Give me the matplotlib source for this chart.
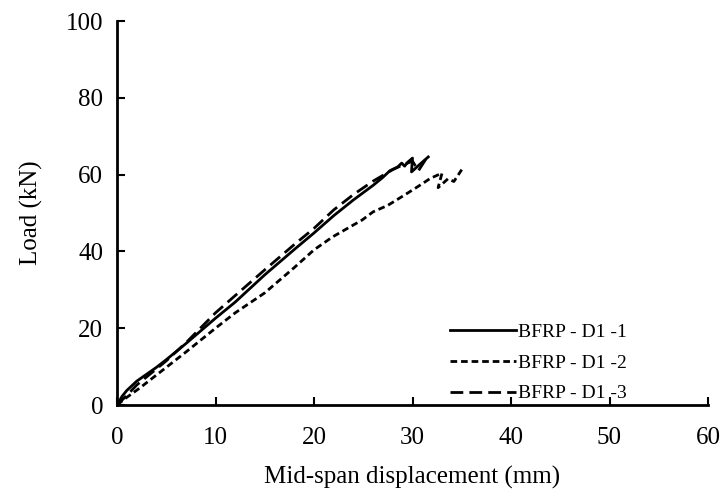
import matplotlib
matplotlib.use("Agg")
import matplotlib.pyplot as plt

plt.rcParams['font.family'] = ['Liberation Serif', 'DejaVu Serif']

# D1-1 (solid)
x1 = [0, 0.5, 1, 2, 3, 4, 5, 7, 10, 12, 15, 18, 20, 22, 24, 25, 26, 27, 27.7, 28.5, 28.9, 29.2, 29.5, 30.0, 29.9, 30.8, 31.6]
y1 = [0, 2.2, 3.8, 6.2, 8.0, 9.8, 11.8, 16.0, 22.6, 26.8, 33.9, 40.5, 44.8, 49.3, 53.4, 55.3, 57.2, 59.3, 61.0, 62.0, 63.0, 62.2, 63.2, 64.3, 60.7, 62.8, 64.6]
# D1-2 (short dashes)
x2 = [0, 1, 2.3, 3, 5, 7, 10, 12, 15, 18, 20, 21.9, 23.4, 24.9, 26, 27.5, 28.7, 29.7, 30.8, 31.8, 33.0, 32.6, 33.6, 34.2, 35.0]
y2 = [0, 2.0, 4.4, 5.8, 9.8, 13.8, 20.0, 24.0, 29.2, 35.8, 40.4, 43.8, 46.0, 48.2, 50.3, 52.0, 53.9, 55.5, 57.3, 59.0, 60.4, 56.6, 58.9, 58.2, 61.3]
# D1-3 (long dashes)
x3 = [0, 1, 2, 3, 5, 7, 10, 12, 15, 18, 20, 22, 24, 26, 27, 28, 29, 30, 30.6, 31.6]
y3 = [0, 2.5, 5.2, 7.3, 11.5, 16.2, 24.0, 28.5, 35.2, 41.8, 46.0, 50.8, 54.8, 58.3, 59.8, 61.3, 62.5, 63.5, 61.0, 65.0]

labels = ['BFRP - D1 -1', 'BFRP - D1 -2', 'BFRP - D1 -3']
xticks = [0, 10, 20, 30, 40, 50, 60]
yticks = [0, 20, 40, 60, 80, 100]

fig = plt.figure(figsize=(7.27, 4.99), dpi=100)
ax = fig.add_axes([117/727, 94/499, 591/727, 384/499])

lw = 2.0
ax.plot(x1, y1, color='black', lw=lw, label=labels[0])
ax.plot(x2, y2, color='black', lw=lw, dashes=(2.4, 1.4), label=labels[1])
ax.plot(x3, y3, color='black', lw=lw, dashes=(4.6, 2.2), label=labels[2])

ax.set_xlim(0, 60)
ax.set_ylim(0, 100)
ax.set_xticks(xticks)
ax.set_yticks(yticks)
ax.tick_params(direction='in', length=6, width=1.5, labelsize=18)
ax.tick_params(axis='x', pad=16)
ax.tick_params(axis='y', pad=10)
for s in ['top', 'right']:
    ax.spines[s].set_visible(False)
for s in ['left', 'bottom']:
    ax.spines[s].set_linewidth(2.0)

ax.set_xlabel('Mid-span displacement (mm)', fontsize=18, labelpad=12)
ax.set_ylabel('Load (kN)', fontsize=18, labelpad=16)

ax.legend(loc='upper left', bbox_to_anchor=(0.563, 0.212), frameon=False,
          fontsize=14, handlelength=3.4, handletextpad=0.1, labelspacing=0.67,
          borderpad=0, borderaxespad=0)

fig.savefig('out.png', dpi=100)
